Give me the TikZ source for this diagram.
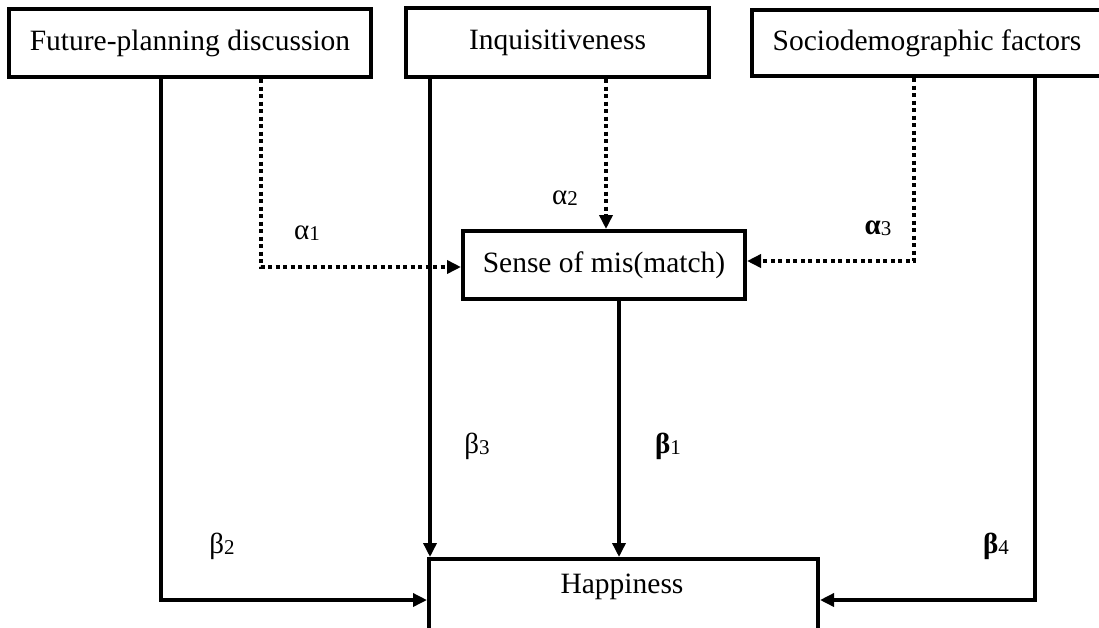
\documentclass[tikz,border=0pt]{standalone}
\usepackage{fontspec}
\setmainfont{Liberation Serif}
\usetikzlibrary{arrows.meta}
\newcommand{\sbs}[1]{\raisebox{-1pt}{\fontsize{21}{22}\selectfont #1}}
\begin{document}
\begin{tikzpicture}[x=1pt,y=-1pt,
  box/.style={draw, line width=4pt, inner sep=0pt, font=\fontsize{29.5}{34}\selectfont},
  solidarr/.style={line width=3.4pt, -{Triangle[length=14pt,width=13pt]}},
  dotarr/.style={line width=4pt, dash pattern=on 4pt off 3.5pt, -{Triangle[length=14pt,width=13pt]}},
  lbl/.style={font=\fontsize{29}{32}\selectfont, inner sep=0pt}]
\useasboundingbox (0,0) rectangle (1099,627);
\clip (0,0) rectangle (1099,627);
\fill[white] (0,0) rectangle (1099,627);

\node[box, minimum width=362pt, minimum height=68pt] (fp) at (190,43) {Future-planning discussion};
\node[box, minimum width=303pt, minimum height=69pt] (inq) at (557.5,42.5) {Inquisitiveness};
\node[box, minimum width=350pt, minimum height=66pt] (soc) at (927,43) {Sociodemographic factors};
\node[box, minimum width=282pt, minimum height=68pt] (sense) at (604,265) {Sense of mis(match)};
\node[box, minimum width=389pt, minimum height=110pt, anchor=north] (hap) at (623.5,557) {};
\node[font=\fontsize{29.5}{34}\selectfont, inner sep=0pt] (haptxt) at (622,587) {Happiness};

\coordinate (xa) at (161,0);
\coordinate (xb) at (261,0);
\coordinate (xc) at (430,0);
\coordinate (xd) at (606,0);
\coordinate (xe) at (914,0);
\coordinate (xf) at (1035,0);
\coordinate (xg) at (619,0);
\coordinate (ya) at (0,600);
\coordinate (yb) at (0,267);
\coordinate (yc) at (0,261);

\draw[solidarr] (fp.south -| xa) |- (hap.west |- ya);
\draw[dotarr] (fp.south -| xb) |- (sense.west |- yb);
\draw[solidarr] (inq.south -| xc) -- (hap.north -| xc);
\draw[dotarr] (inq.south -| xd) -- (sense.north -| xd);
\draw[dotarr] (soc.south -| xe) |- (sense.east |- yc);
\draw[solidarr] (soc.south -| xf) |- (hap.east |- ya);
\draw[solidarr] (sense.south -| xg) -- (hap.north -| xg);

\node[lbl] (a1) at (307,233) {α\sbs{1}};
\node[lbl] (a2) at (565,198) {α\sbs{2}};
\node[lbl] (a3) at (878,228) {{\bfseries α}\sbs{3}};
\node[lbl] (b3) at (477,446) {β\sbs{3}};
\node[lbl] (b1) at (668,446) {{\bfseries β}\sbs{1}};
\node[lbl] (b2) at (222,546) {β\sbs{2}};
\node[lbl] (b4) at (996,546) {{\bfseries β}\sbs{4}};
\end{tikzpicture}
\end{document}
